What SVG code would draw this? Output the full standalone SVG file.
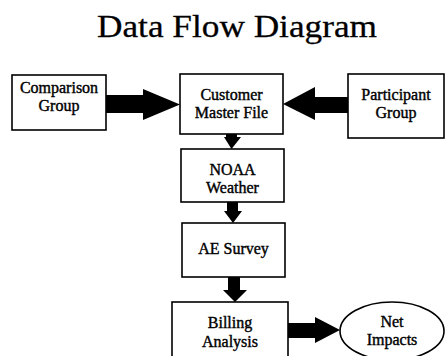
<svg xmlns="http://www.w3.org/2000/svg" width="445" height="356" viewBox="0 0 445 356">
  <style>
    .box { fill: #fff; stroke: #000; stroke-width: 1.6; }
    .lbl { font-family: "Liberation Serif", "Times New Roman", serif; font-size: 16px; text-anchor: middle; fill: #000; stroke: #000; stroke-width: 0.4; }
    .title { font-family: "Liberation Serif", "Times New Roman", serif; font-size: 32px; text-anchor: middle; fill: #000; stroke: #000; stroke-width: 0.3; }
    .arrow { fill: #000; stroke: none; }
  </style>
  <rect width="445" height="356" fill="#fff"/>

  <text class="title" x="237" y="37" textLength="280" lengthAdjust="spacingAndGlyphs">Data Flow Diagram</text>

  <g id="comparison-group">
    <rect class="box" x="12" y="75" width="94" height="55"/>
    <text class="lbl" x="59" y="93">Comparison</text>
    <text class="lbl" x="59" y="111">Group</text>
  </g>

  <g id="customer-master-file">
    <rect class="box" x="180" y="74" width="103" height="60"/>
    <text class="lbl" x="231.5" y="100">Customer</text>
    <text class="lbl" x="231.5" y="118">Master File</text>
  </g>

  <g id="participant-group">
    <rect class="box" x="348" y="74" width="96" height="64"/>
    <text class="lbl" x="396" y="100">Participant</text>
    <text class="lbl" x="396" y="118">Group</text>
  </g>

  <g id="noaa-weather">
    <rect class="box" x="181" y="149" width="103" height="53"/>
    <text class="lbl" x="232.5" y="175">NOAA</text>
    <text class="lbl" x="232.5" y="193">Weather</text>
  </g>

  <g id="ae-survey">
    <rect class="box" x="182" y="223" width="103" height="54"/>
    <text class="lbl" x="233.5" y="254">AE Survey</text>
  </g>

  <g id="billing-analysis">
    <rect class="box" x="172" y="302" width="116" height="60"/>
    <text class="lbl" x="230" y="328">Billing</text>
    <text class="lbl" x="230" y="347">Analysis</text>
  </g>

  <g id="net-impacts">
    <ellipse class="box" cx="392" cy="331" rx="52" ry="29"/>
    <text class="lbl" x="392" y="327">Net</text>
    <text class="lbl" x="392" y="345">Impacts</text>
  </g>

  <g id="connectors">
    <!-- Comparison Group -> Customer Master File -->
    <polygon class="arrow" points="106,95 143,95 143,89 180,104.5 143,120 143,113 106,113"/>
    <!-- Participant Group -> Customer Master File -->
    <polygon class="arrow" points="348,97 315,97 315,87 283,104 315,120 315,113 348,113"/>
    <!-- Customer Master File -> NOAA Weather -->
    <polygon class="arrow" points="226,134 237,134 237,137 241,137 231.5,149 224,137 226,137"/>
    <!-- NOAA Weather -> AE Survey -->
    <polygon class="arrow" points="227,202 238,202 238,211 242,211 233,223 224,211 227,211"/>
    <!-- AE Survey -> Billing Analysis -->
    <polygon class="arrow" points="228,277 240,277 240,290 247,290 235,302 223,290 228,290"/>
    <!-- Billing Analysis -> Net Impacts -->
    <polygon class="arrow" points="288,323 315,323 315,317 340,330 315,343 315,338 288,338"/>
  </g>
</svg>
